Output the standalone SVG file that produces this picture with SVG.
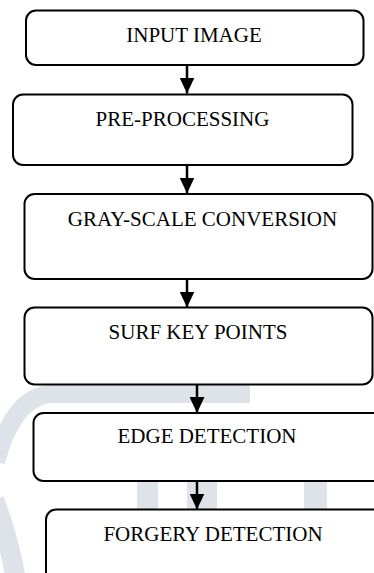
<svg xmlns="http://www.w3.org/2000/svg" width="374" height="573" viewBox="0 0 374 573">
<style>
.wm{fill:none;stroke:#dde3e8;stroke-linecap:butt}
.wmf{fill:#dde3e8}
.box{fill:#ffffff;stroke:#000000;stroke-width:2}
.lbl{font-family:"Liberation Serif","Times New Roman",serif;font-size:21px;fill:#000000;text-anchor:middle}
.conn{stroke:#000000;stroke-width:2.5;fill:none}
</style>
<defs>
<marker id="ah" markerWidth="16" markerHeight="15" refX="16" refY="7.5" orient="auto" markerUnits="userSpaceOnUse" viewBox="0 0 16 15">
<path d="M0,0 L16,7.5 L0,15 Z" fill="#000000"/>
</marker>
</defs>
<rect width="374" height="573" fill="#ffffff"/>
<g id="watermark">
<path class="wm" stroke-width="18" d="M-4,462 Q12,400 48,394 L250,394"/>
<path class="wm" stroke-width="20" d="M-6,500 Q8,535 16,580"/>
<rect class="wmf" x="137" y="478" width="21" height="34"/>
<rect class="wmf" x="187" y="478" width="30" height="34"/>
<rect class="wmf" x="304" y="478" width="23" height="34"/>
</g>
<g id="connectors">
<line class="conn" x1="187" y1="65" x2="187" y2="93.5" marker-end="url(#ah)"/>
<line class="conn" x1="187" y1="165" x2="187" y2="193.5" marker-end="url(#ah)"/>
<line class="conn" x1="187" y1="279" x2="187" y2="307.5" marker-end="url(#ah)"/>
<line class="conn" x1="197" y1="384.5" x2="197" y2="413" marker-end="url(#ah)"/>
<line class="conn" x1="197" y1="481" x2="197" y2="509.5" marker-end="url(#ah)"/>
</g>
<g id="n1"><rect class="box" x="26" y="10.5" width="337.5" height="54.5" rx="10"/><text class="lbl" x="194" y="42.3">INPUT IMAGE</text></g>
<g id="n2"><rect class="box" x="13" y="94.5" width="339.5" height="70.5" rx="10"/><text class="lbl" x="182.5" y="126">PRE-PROCESSING</text></g>
<g id="n3"><rect class="box" x="24.5" y="194" width="348" height="85" rx="10"/><text class="lbl" x="202.5" y="225.7">GRAY-SCALE CONVERSION</text></g>
<g id="n4"><rect class="box" x="24.5" y="307.5" width="348" height="77" rx="10"/><text class="lbl" x="198" y="339.3">SURF KEY POINTS</text></g>
<g id="n5"><rect class="box" x="33.5" y="413" width="360" height="68" rx="10"/><text class="lbl" x="207" y="443.3">EDGE DETECTION</text></g>
<g id="n6"><rect class="box" x="46" y="509.5" width="350" height="90" rx="10"/><text class="lbl" x="213" y="540.7">FORGERY DETECTION</text></g>
</svg>
